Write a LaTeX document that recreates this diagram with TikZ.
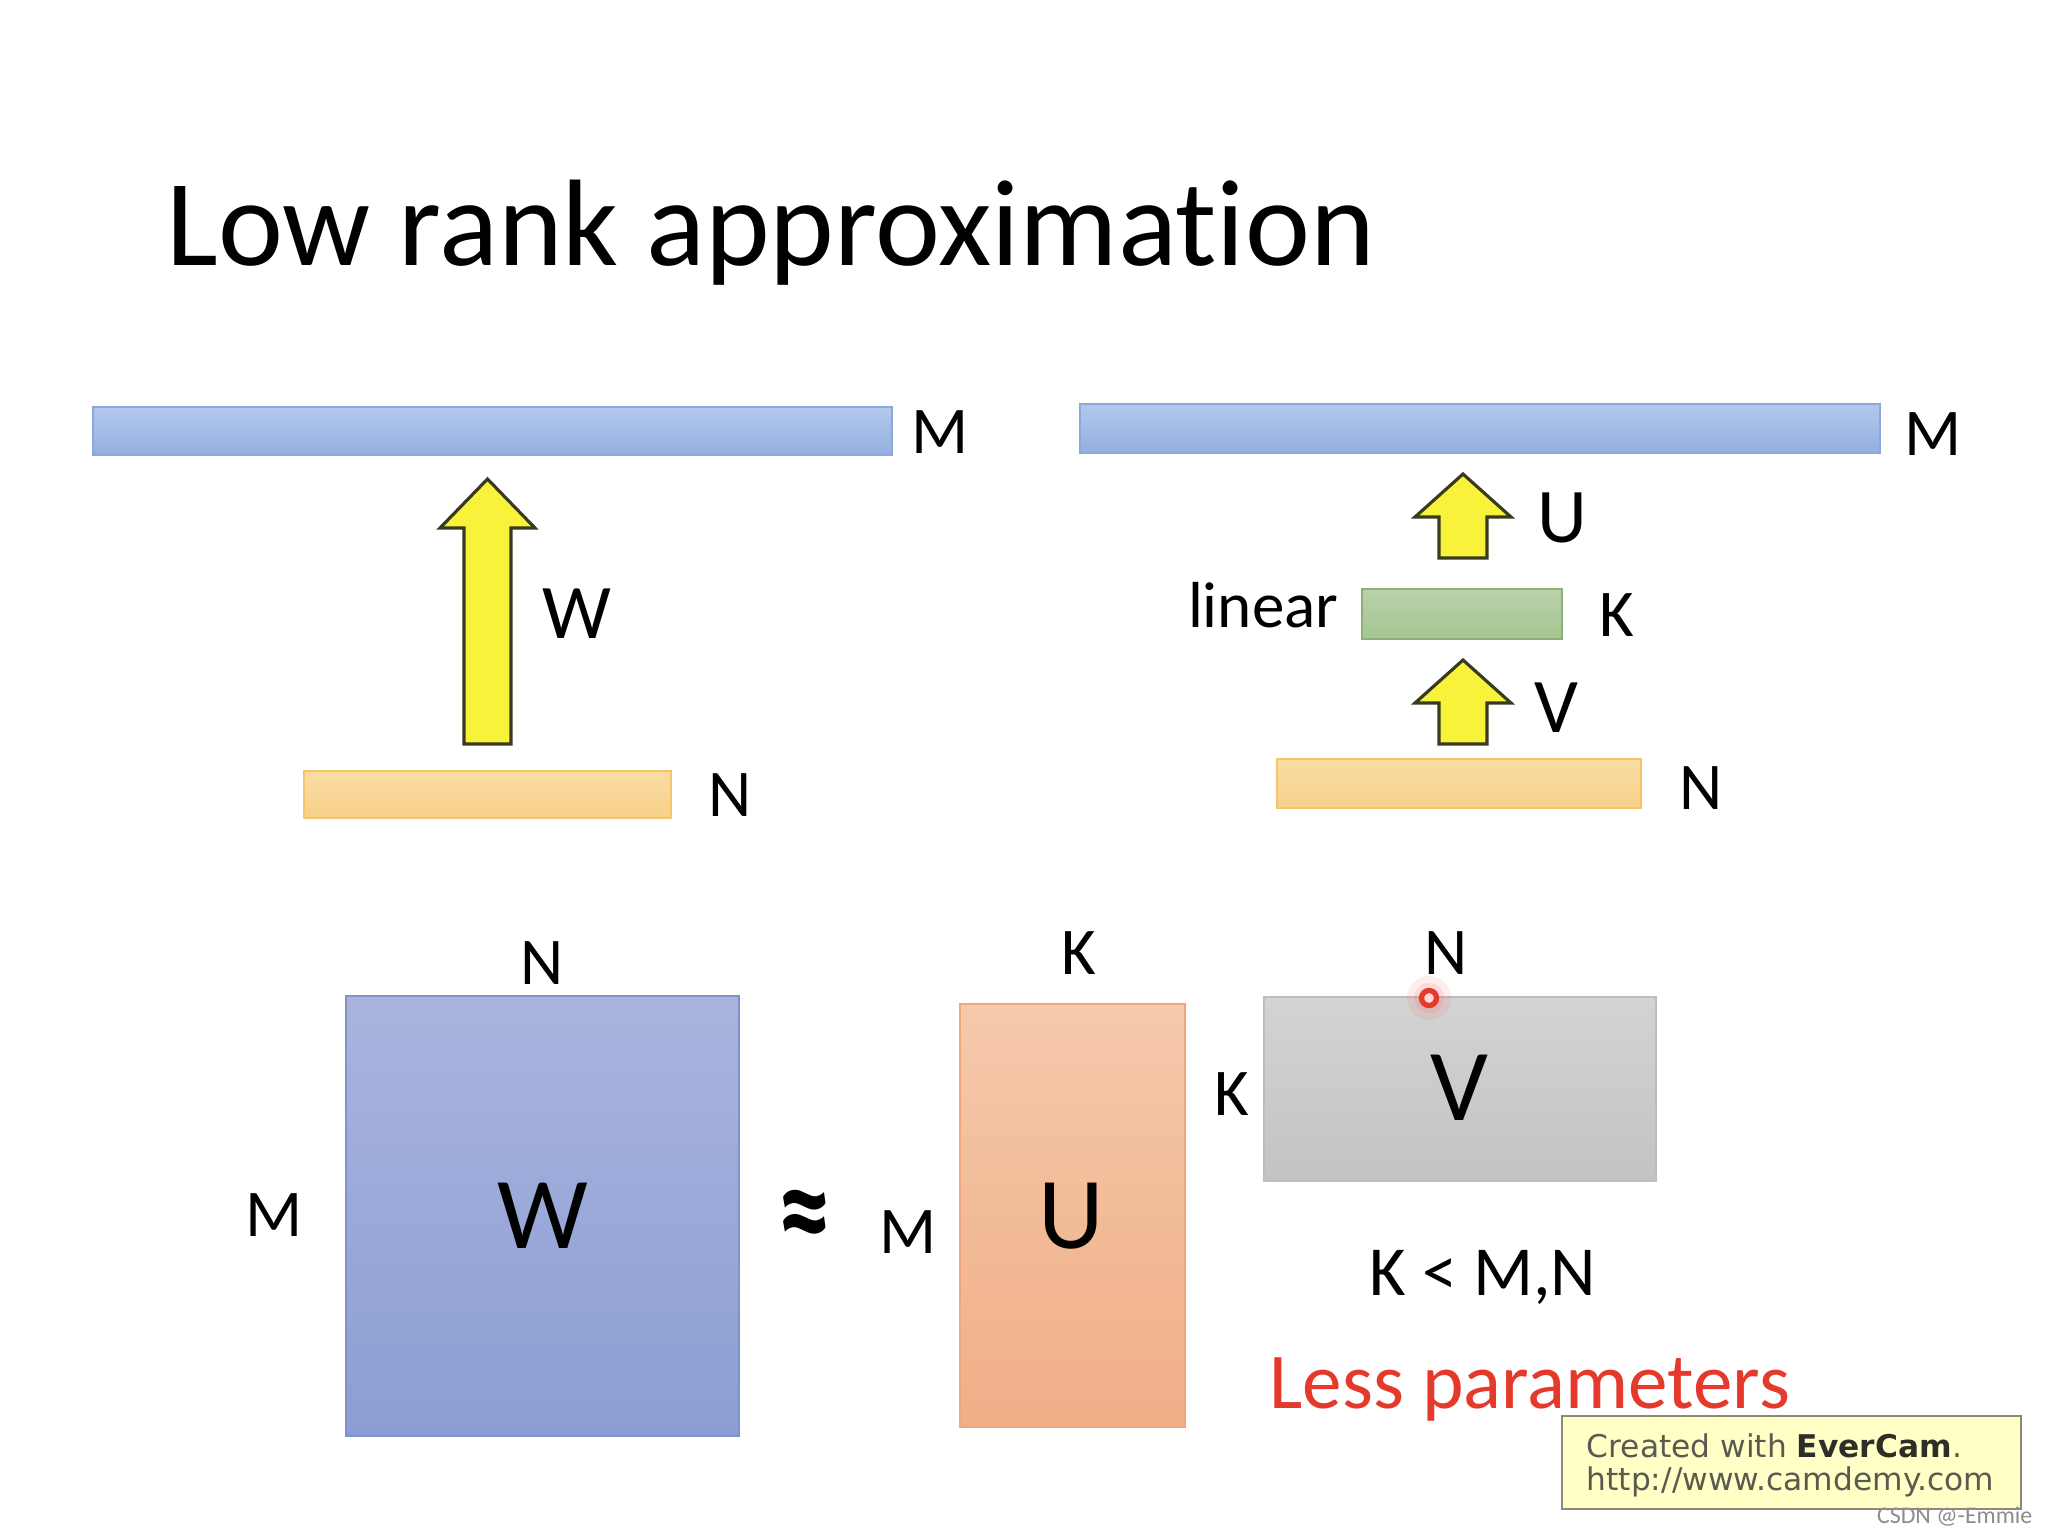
\documentclass[tikz,border=0pt]{standalone}
\usepackage{fontspec}
\setmainfont{Carlito}[Ligatures=NoCommon]
\newfontfamily\dejavu{DejaVu Sans}
\usetikzlibrary{fit}
\newcommand\myfs[1]{\fontsize{#1}{#1}\selectfont}
\definecolor{blueT}{HTML}{B3C9EC}
\definecolor{blueB}{HTML}{93AFDF}
\definecolor{blueD}{HTML}{8CA8DA}
\definecolor{orT}{HTML}{FADDA4}
\definecolor{orB}{HTML}{F7D08A}
\definecolor{orD}{HTML}{F4C667}
\definecolor{grT}{HTML}{B9D2AA}
\definecolor{grB}{HTML}{A5C592}
\definecolor{grD}{HTML}{8DB079}
\definecolor{arrY}{HTML}{F8F23A}
\definecolor{arrD}{HTML}{3A3A20}
\definecolor{wT}{HTML}{AAB4DE}
\definecolor{wB}{HTML}{8B9ED4}
\definecolor{wD}{HTML}{8092CC}
\definecolor{uT}{HTML}{F5C9AB}
\definecolor{uB}{HTML}{F0AE86}
\definecolor{uD}{HTML}{EEA67C}
\definecolor{vT}{HTML}{D3D3D3}
\definecolor{vB}{HTML}{C3C3C3}
\definecolor{vD}{HTML}{BDBDBD}
\definecolor{redtxt}{HTML}{E5392B}
\definecolor{everfill}{HTML}{FFFFC6}
\definecolor{everedge}{HTML}{8A8A7A}
\definecolor{evergray}{HTML}{5A5A50}
\definecolor{everdark}{HTML}{2E2E28}
\tikzset{
  bar/.style={draw, line width=0.7pt, inner sep=0pt},
  lbl/.style={inner sep=0pt, font=\myfs{19pt}},
  arrlbl/.style={inner sep=0pt, font=\myfs{22pt}},
  matlbl/.style={inner sep=0pt, font=\myfs{29pt}},
  blockarrow/.style={draw=arrD, fill=arrY, line width=0.9pt, line join=miter}
}
\begin{document}
\begin{tikzpicture}[x=0.01cm,y=-0.01cm]
\useasboundingbox[fill=white] (0,0) rectangle (2048,1536);

% title
\node[anchor=base west, inner sep=0pt, font=\myfs{35pt}] (title) at (166,265) {Low rank approximation};

% ---------- left network ----------
\node[bar, fit={(93,407) (892,455)}, top color=blueT, bottom color=blueB, draw=blueD] (topL) {};
\node[lbl] (mL) at (940,432) {M};
\node[bar, fit={(304,771) (671,818)}, top color=orT, bottom color=orB, draw=orD] (botL) {};
\node[lbl] (nL) at (730,795) {N};
\draw[blockarrow] (464,744) -- (464,528) -- (440,528) -- (487.5,479) -- (535,528) -- (511,528) -- (511,744) -- cycle;
\node[arrlbl] (wL) at (577,614) {W};

% ---------- right network ----------
\node[bar, fit={(1080,404) (1880,453)}, top color=blueT, bottom color=blueB, draw=blueD] (topR) {};
\node[lbl] (mR) at (1933,434) {M};
\node[bar, fit={(1362,589) (1562,639)}, top color=grT, bottom color=grB, draw=grD] (lin) {};
\node[anchor=base east, inner sep=0pt, font=\myfs{18.5pt}] (linear) at (1339,627) {linear};
\node[lbl] (kR) at (1617,615) {K};
\node[bar, fit={(1277,759) (1641,808)}, top color=orT, bottom color=orB, draw=orD] (botR) {};
\node[lbl] (nR) at (1701,788) {N};
\draw[blockarrow] (1439,558) -- (1439,517) -- (1415,517) -- (1463,474) -- (1511,517) -- (1487,517) -- (1487,558) -- cycle;
\node[arrlbl] (uR) at (1562,518) {U};
\draw[blockarrow] (1439,744) -- (1439,703) -- (1415,703) -- (1463,660) -- (1511,703) -- (1487,703) -- (1487,744) -- cycle;
\node[arrlbl] (vR) at (1556,708) {V};

% ---------- matrices ----------
\node[bar, fit={(346,996) (739,1436)}, top color=wT, bottom color=wB, draw=wD] (W) {};
\node[matlbl] at (W.center) {W};
\node[lbl] (nW) at (542,963) {N};
\node[lbl] (mW) at (274,1215) {M};
\node[inner sep=0pt, font=\bfseries\myfs{30pt}] (approx) at (805,1224) {\scalebox{1}[1.35]{≈}};
\node[lbl] (mU) at (908,1232) {M};
\node[bar, fit={(960,1004) (1185,1427)}, top color=uT, bottom color=uB, draw=uD] (U) {};
\node[matlbl] at (1071,1216) {U};
\node[lbl] (kU) at (1079,953) {K};
\node[bar, fit={(1264,997) (1656,1181)}, top color=vT, bottom color=vB, draw=vD] (V) {};
\node[matlbl] at (1459,1088) {V};
\node[lbl] (kV) at (1232,1094) {K};
\node[lbl] (nV) at (1446,953) {N};

% cursor highlight
\fill[red!60, opacity=0.12] (1429,998) circle (22);
\fill[red!60, opacity=0.15] (1429,998) circle (15);
\draw[redtxt, line width=1.5pt, fill=red!15] (1429,998) circle (7.5);

\node[inner sep=0pt, font=\myfs{20pt}] (cond) at (1483,1277) {K < M,N};
\node[anchor=base west, inner sep=0pt, font=\myfs{22.5pt}, text=redtxt] (less) at (1269,1408) {Less parameters};

% watermark box
\node[draw=everedge, fill=everfill, line width=0.8pt, inner sep=0pt, fit={(1562,1416) (2021,1509)}] (ever) {};
\node[anchor=base west, inner sep=0pt, font=\dejavu\myfs{8.9pt}, text=evergray] (ev1) at (1586,1457) {Created with \textbf{\color{everdark}EverCam}.};
\node[anchor=base west, inner sep=0pt, font=\dejavu\myfs{8.9pt}, text=evergray] (ev2) at (1586,1490) {http://www.camdemy.com};
\node[anchor=east, inner sep=0pt, font=\myfs{6.8pt}, text=black!45] (csdn) at (2033,1517) {CSDN @-Emmie};
\end{tikzpicture}
\end{document}
